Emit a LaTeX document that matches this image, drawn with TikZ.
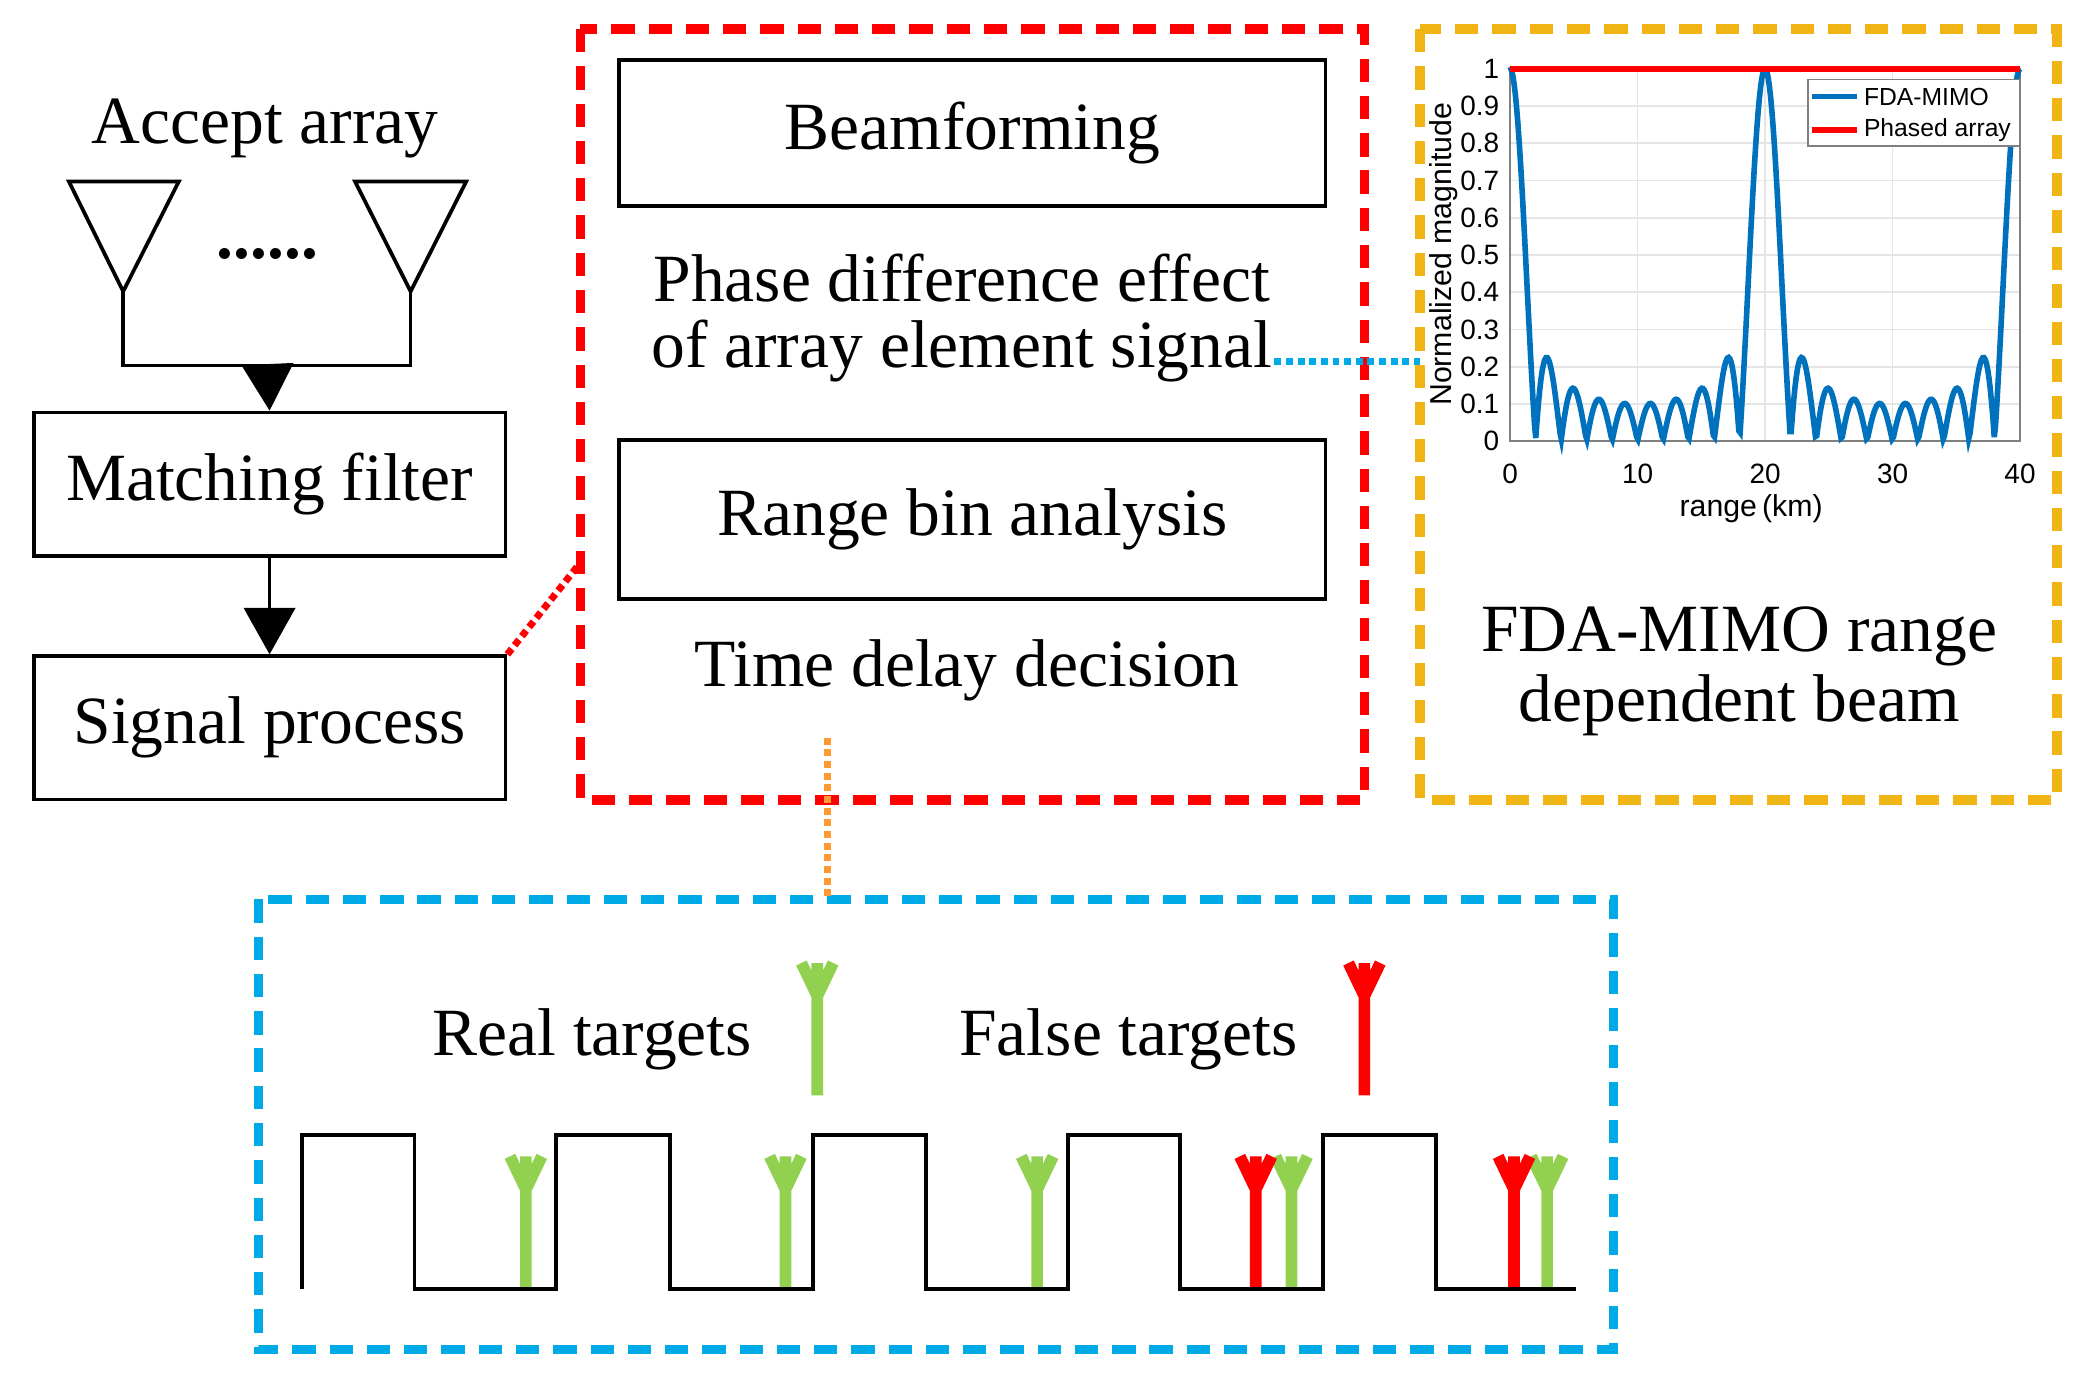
\documentclass[tikz,border=0pt]{standalone}
\usepackage{fontspec}
\setmainfont{Liberation Serif}
\newfontfamily\plotfont{Liberation Sans}
\usetikzlibrary{positioning, arrows.meta}
\definecolor{fdablue}{RGB}{0,114,189}
\definecolor{tgtgreen}{RGB}{146,208,80}
\definecolor{boxorange}{RGB}{240,180,20}
\definecolor{boxblue}{RGB}{0,170,230}
\tikzset{
  box/.style={draw, thick, minimum width=3.56cm, minimum height=1.08cm, inner sep=1pt, font=\fontsize{14.5}{16}\selectfont},
  bigbox/.style={draw, thick, minimum width=5.33cm, minimum height=1.1cm, font=\fontsize{14.5}{16}\selectfont},
  lbl/.style={font=\fontsize{14.5}{16}\selectfont, align=center},
  tick/.style={font=\plotfont\fontsize{6}{7}\selectfont},
  leg/.style={font=\plotfont\fontsize{5.3}{6}\selectfont, right, inner sep=1pt},
  arr/.style={-{Triangle[length=10pt, width=11pt]}, thick},
}
\begin{document}
\begin{tikzpicture}[x=0.01cm, y=-0.01cm]
    \useasboundingbox (0,0) rectangle (1568,1036);

    % receiving chain
    \node[lbl] (accept) at (200,97) {Accept array};
    \draw[thick] (52,137) -- (135,137) -- (93,220) -- cycle;
    \draw[thick] (268,137) -- (352,137) -- (310,220) -- cycle;
    \node[lbl] (dots) at (202,192) {\textbf{......}};
    \draw[thick] (93,220) -- (93,276) -- (310,276) -- (310,220);
    \coordinate (feed) at (202,276);
    \node[box, anchor=north west] (match) at (24,310) {Matching filter};
    \node[box, anchor=north west] (signal) at (24,494) {Signal process};
    \draw[arr] (feed) -- (match.north);
    \draw[arr] (match.south) -- (signal.north);

    % processing block
    \draw[red, line width=2pt, dash pattern=on 5pt off 3pt] (438,22) rectangle (1030,604);
    \node[bigbox, anchor=north west] (beam) at (466,44) {Beamforming};
    \node[lbl] (phase) at (726,240) {Phase difference effect\\[-2pt]of array element signal};
    \node[bigbox, anchor=north west, minimum height=1.2cm] (rangebin) at (466,331) {Range bin analysis};
    \node[lbl] (delay) at (730,506) {Time delay decision};
    \coordinate (redin) at (438,425);
    \draw[red, line width=1.5pt, densely dotted] (signal.north east) -- (redin);

    % beam plot
    \draw[boxorange, line width=2pt, dash pattern=on 5pt off 3pt] (1072,22) rectangle (1553,604);
    \coordinate (phaseout) at (962,273);
    \coordinate (plotin) at (1072,273);
    \draw[boxblue, line width=1.5pt, densely dotted] (phaseout) -- (plotin);
    \foreach \i in {0,...,4}{
      \draw[gray!20] ({1140+96.25*\i},52) -- ({1140+96.25*\i},333);
      \node[tick, below] (xt\i) at ({1140+96.25*\i},338) {\the\numexpr\i*10\relax};
    }
    \foreach \i/\t in {0/0,1/0.1,2/0.2,3/0.3,4/0.4,5/0.5,6/0.6,7/0.7,8/0.8,9/0.9,10/1}{
      \draw[gray!20] (1140,{333-28.1*\i}) -- (1525,{333-28.1*\i});
      \node[tick, left, inner sep=1pt] (yt\i) at (1136,{333-28.1*\i}) {\t};
    }
    \draw[gray] (1140,52) rectangle (1525,333);
    \draw[fdablue, line width=1.2pt] plot[domain=0.013:39.987, samples=400]
      ({1140+9.625*\x}, {333-281*abs(sin(90*\x)/(10*sin(9*\x)))});
    \draw[red, line width=1.2pt] (1140,52) -- (1525,52);
    \node[rotate=90, font=\plotfont\fontsize{6.5}{7}\selectfont] (ylab) at (1090,192) {Normalized magnitude};
    \node[font=\plotfont\fontsize{6.5}{7}\selectfont] (xlab) at (1322,384) {range\,(km)};
    \draw[draw=gray, fill=white] (1365,60) rectangle (1525,110);
    \draw[fdablue, line width=1.2pt] (1368,73) -- (1402,73);
    \node[leg] (leg1) at (1403,73) {FDA-MIMO};
    \draw[red, line width=1.2pt] (1368,98) -- (1402,98);
    \node[leg] (leg2) at (1403,98) {Phased array};
    \node[lbl] (fdatext) at (1313,507) {FDA-MIMO range\\[-1pt]dependent beam};

    % targets
    \draw[boxblue, line width=2pt, dash pattern=on 5pt off 3pt] (195,679) rectangle (1218,1019);
    \coordinate (delayout) at (625,557);
    \coordinate (tgtin) at (625,679);
    \draw[orange!80, line width=1.5pt, densely dotted] (delayout) -- (tgtin);
    \node[lbl] (real) at (447,785) {Real targets};
    \node[lbl] (false) at (852,785) {False targets};
    \foreach \x/\c/\top/\bot in {617/tgtgreen/727/827, 1030/red/727/827,
        397/tgtgreen/873/973, 593/tgtgreen/873/973, 783/tgtgreen/873/973,
        975/tgtgreen/873/973, 1168/tgtgreen/873/973, 948/red/873/973, 1143/red/873/973}{
      \draw[\c, line width=2.5pt] (\x,\bot) -- (\x,\top+25) -- (\x-12,\top)
        (\x,\top+25) -- (\x,\top) (\x,\top+25) -- (\x+12,\top);
    }
    \draw[thick] (228,973) -- (228,857) -- (313,857) -- (313,973) -- (420,973)
      -- (420,857) -- (506,857) -- (506,973) -- (614,973) -- (614,857) -- (699,857)
      -- (699,973) -- (806,973) -- (806,857) -- (891,857) -- (891,973) -- (999,973)
      -- (999,857) -- (1084,857) -- (1084,973) -- (1190,973);
\end{tikzpicture}
\end{document}
